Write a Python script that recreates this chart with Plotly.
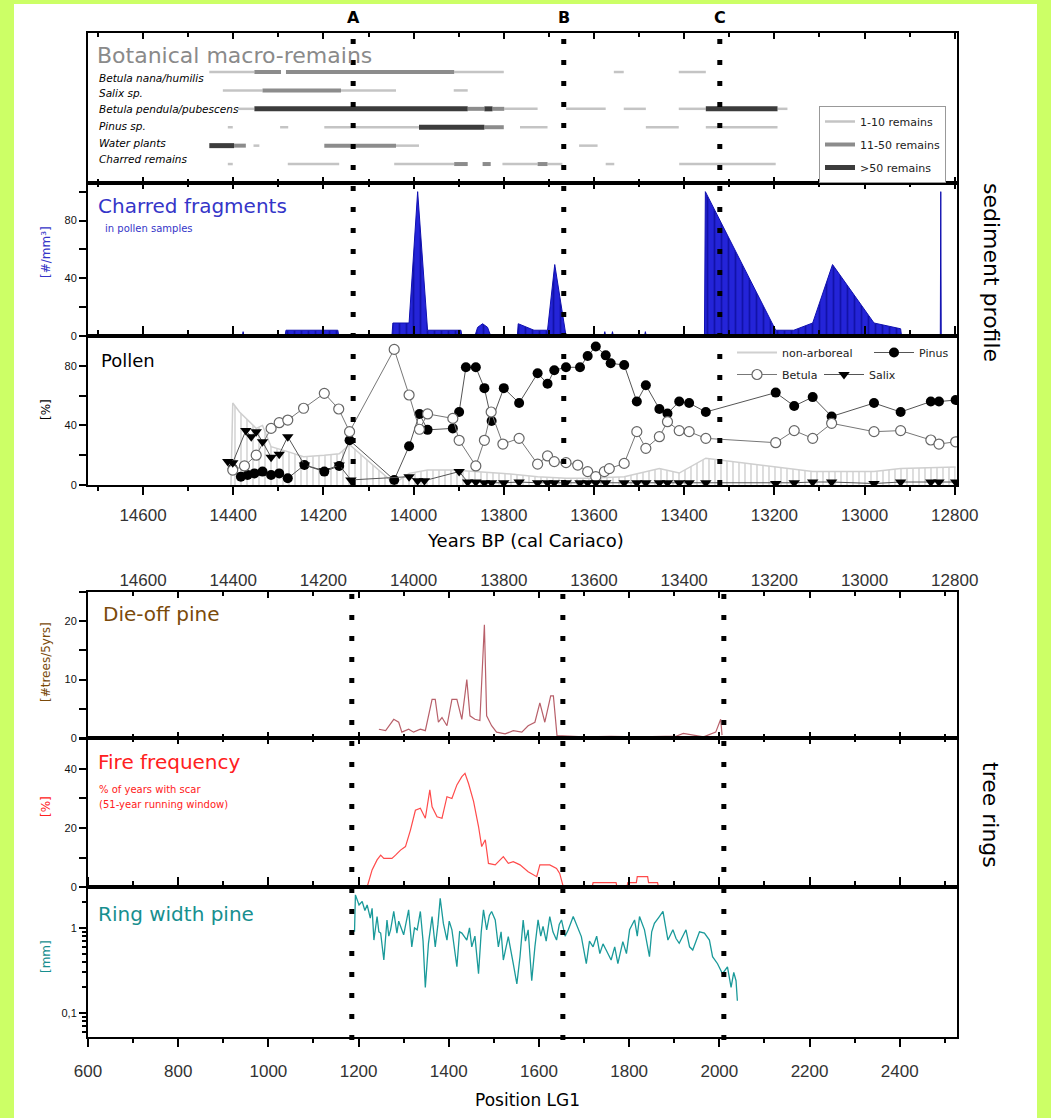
import plotly.graph_objects as go

W, H = 1051, 1118

# ---------------- data ----------------
year_ticks = [14600, 14400, 14200, 14000, 13800, 13600, 13400, 13200, 13000, 12800]
lg1_ticks = [600, 800, 1000, 1200, 1400, 1600, 1800, 2000, 2200, 2400]
event_names = ["A", "B", "C"]
event_years = [14134, 13667, 13321]
event_lg1 = [1185, 1653, 2010]

taxa = ["Betula nana/humilis", "Salix sp.", "Betula pendula/pubescens",
        "Pinus sp.", "Water plants", "Charred remains"]
levels = ["1-10 remains", "11-50 remains", ">50 remains"]
# (start year, end year, abundance level 1..3)
seg_betula_nana = [(14453, 14353, 1), (14353, 14294, 2), (14283, 13910, 2), (13910, 13800, 1),
                   (13556, 13534, 1), (13412, 13352, 1)]
seg_salix = [(14423, 14335, 1), (14335, 14161, 2), (14161, 14039, 1), (13911, 13880, 1)]
seg_betula_pend = [(14390, 14353, 1), (14353, 13880, 3), (13880, 13843, 2), (13843, 13825, 3),
                   (13825, 13799, 2), (13799, 13725, 1), (13662, 13574, 1), (13534, 13485, 1),
                   (13412, 13352, 1), (13352, 13193, 3), (13193, 13171, 1)]
seg_pinus = [(14412, 14401, 1), (14296, 14278, 1), (14198, 13988, 1), (13988, 13843, 3),
             (13843, 13800, 2), (13764, 13703, 1), (13485, 13412, 1), (13352, 13193, 1)]
seg_water = [(14453, 14398, 3), (14398, 14372, 2), (14355, 14342, 1), (14198, 14039, 2),
             (14039, 13988, 1), (13633, 13592, 1)]
seg_charred = [(14412, 14401, 1), (14279, 14165, 1), (14043, 13910, 1), (13910, 13880, 2),
               (13847, 13829, 2), (13803, 13725, 1), (13725, 13703, 2), (13703, 13670, 1),
               (13574, 13555, 1), (13411, 13197, 1)]
bot_segments = [seg_betula_nana, seg_salix, seg_betula_pend, seg_pinus, seg_water, seg_charred]

charred_year = [14380, 14378, 14376, 14285, 14283, 14168, 14166, 14048, 14046, 14010, 13991,
                13969, 13895, 13893, 13864, 13858, 13847, 13836, 13829, 13770, 13768, 13733,
                13703, 13687, 13662, 13578, 13576, 13574, 13561, 13559, 13557, 13488, 13486,
                13484, 13355, 13353, 13197, 13157, 13115, 13071, 12979, 12920, 12918, 12832,
                12831, 12830]
charred_val = [0, 3, 0, 0, 4, 4, 0, 0, 9, 9, 100,
               4, 4, 0, 0, 6, 8.5, 6, 0, 0, 8.5, 4,
               4, 49.5, 0, 0, 3, 0, 0, 3, 0, 0, 3,
               0, 0, 100, 4, 4, 9, 49.5, 9, 5, 0, 0,
               100, 0]

pinus_year = [14401, 14383, 14368, 14353, 14335, 14316, 14298, 14279, 14242, 14198, 14165,
              14142, 14043, 14010, 13987, 13969, 13913, 13899, 13884, 13862, 13843, 13827,
              13800, 13766, 13725, 13703, 13688, 13662, 13631, 13614, 13596, 13574, 13563,
              13533, 13505, 13485, 13455, 13437, 13411, 13389, 13352, 13197, 13156, 13115,
              13073, 12979, 12920, 12853, 12835, 12798]
pinus_val = [11, 5.6, 6.7, 7.8, 9, 6.7, 7.8, 4.5, 13.4, 9, 12.8,
             30, 3.4, 26, 47.7, 37, 38, 49, 79, 79, 65, 43,
             65, 55, 75, 68, 77, 79, 79, 86.6, 93, 87, 81.7,
             80.5, 56, 67, 51, 48, 56, 55, 49, 62, 53, 59,
             46, 55, 49, 56, 56, 57]

betula_year = [14401, 14375, 14349, 14316, 14298, 14279, 14244, 14198, 14166, 14142, 14043,
               14010, 13987, 13969, 13913, 13899, 13862, 13843, 13828, 13802, 13766, 13725,
               13703, 13688, 13662, 13636, 13614, 13596, 13577, 13566, 13533, 13505, 13485,
               13455, 13437, 13411, 13389, 13352, 13197, 13156, 13115, 13073, 12979, 12920,
               12853, 12835, 12798]
betula_val = [10, 12.8, 20, 38, 41.8, 43.6, 51.5, 61.5, 51, 35.8, 91,
              60.4, 37.4, 47.7, 44.7, 30, 12.8, 30, 49, 27.5, 31.3, 14,
              19.5, 15.7, 15, 13.4, 9, 5.6, 9, 11, 14.5, 35.8, 24.6,
              32.4, 42.5, 36.5, 35.8, 31.3, 28.4, 36.5, 31.3, 41.4, 35.8, 36.5,
              30.2, 27.5, 29]

salix_year = [14412, 14401, 14372, 14360, 14349, 14335, 14316, 14298, 14279, 14242, 14198,
              14165, 14139, 14010, 13991, 13976, 13899, 13880, 13862, 13843, 13827, 13800,
              13766, 13725, 13703, 13688, 13662, 13631, 13614, 13596, 13574, 13533, 13505,
              13485, 13455, 13437, 13411, 13389, 13352, 13197, 13156, 13115, 13073, 12979,
              12920, 12853, 12835, 12798]
salix_val = [15.7, 15, 36.5, 32.4, 35.8, 29, 18.6, 20.6, 32.4, 13.4, 9.6,
             13.4, 3.4, 5.6, 2.9, 2.9, 9, 2, 2, 1.5, 1.5, 1.5,
             2, 1.5, 1.5, 1.5, 1.5, 1.5, 1.5, 1.5, 1.5, 1.5, 1.5,
             1.5, 1.5, 1.5, 1.5, 1.5, 1.5, 1, 1.5, 2, 2, 1,
             2, 2, 2, 2]

nap_year = [14405, 14401, 14386, 14368, 14349, 14335, 14316, 14279, 14244, 14198, 14165,
            14142, 14043, 14010, 13969, 13913, 13862, 13800, 13725, 13662, 13614, 13533,
            13455, 13411, 13352, 13197, 13115, 12979, 12920, 12798]
nap_val = [0, 55, 49, 43.6, 38, 40, 25.7, 22.4, 19, 20, 21,
           27, 1, 7.8, 10, 10, 9, 7.8, 5.6, 4.5, 4.5, 5.6,
           11, 8, 18, 12, 9, 9, 11, 12]

dieoff_pos = [1245, 1260, 1278, 1289, 1296, 1311, 1322, 1337, 1348, 1363, 1370, 1377, 1385,
              1396, 1407, 1418, 1429, 1440, 1447, 1458, 1469, 1479, 1484, 1495, 1506, 1525,
              1543, 1562, 1576, 1591, 1602, 1613, 1626, 1632, 1640, 1700, 1760, 1820, 1880,
              1904, 1920, 1948, 1965, 1992, 2003, 2006]
dieoff_val = [1.5, 1.25, 3.2, 2.7, 1, 1.5, 1, 1.5, 1.25, 6.6, 6.6, 2.7, 3.5,
              2.1, 6.6, 6.6, 3.2, 10, 3.8, 3.2, 3, 19.4, 3.8, 2.1, 1, 0.7,
              1.25, 1, 2.1, 2.7, 6, 2.7, 7.2, 7.2, 0.4, 0.2, 0.3, 0.2, 0.3,
              0.3, 0.8, 0.5, 0.2, 1, 3.2, 0.5]

fire_pos = [1219, 1230, 1241, 1249, 1256, 1274, 1282, 1293, 1304, 1315, 1326, 1337, 1348,
            1358, 1363, 1374, 1385, 1396, 1407, 1418, 1429, 1436, 1444, 1455, 1466, 1473,
            1481, 1488, 1503, 1521, 1532, 1543, 1558, 1576, 1595, 1602, 1624, 1639, 1646,
            1654, 1718, 1720, 1771, 1773, 1795, 1797, 1816, 1818, 1841, 1843, 1863, 1865]
fire_val = [0, 5.8, 9.2, 10.8, 9.7, 9.7, 10.8, 12.5, 13.7, 19.3, 26, 26.7, 23.3,
            32.9, 27.2, 23.8, 23.3, 30.6, 30, 34.6, 37.4, 38.5, 35, 29, 20.5, 13.7,
            16, 8, 7.5, 10.3, 8, 8.6, 7.5, 5.2, 3.5, 7.5, 7.5, 6.3, 4.6,
            0, 0, 1.5, 1.5, 0, 0, 1.5, 1.5, 3.5, 3.5, 1.5, 1.5, 0]

ring_pos = [1191, 1193, 1201, 1208, 1214, 1219, 1226, 1230, 1234, 1241, 1245, 1249, 1256,
            1263, 1267, 1271, 1278, 1285, 1289, 1293, 1300, 1306, 1311, 1318, 1324, 1330,
            1337, 1343, 1348, 1355, 1363, 1370, 1376, 1381, 1388, 1396, 1401, 1407, 1413,
            1418, 1424, 1429, 1440, 1446, 1451, 1458, 1466, 1472, 1477, 1484, 1490, 1495,
            1503, 1510, 1516, 1521, 1532, 1538, 1543, 1551, 1558, 1565, 1570, 1576, 1584,
            1591, 1598, 1604, 1609, 1616, 1624, 1631, 1639, 1645, 1650, 1658, 1665, 1676,
            1683, 1694, 1705, 1712, 1720, 1728, 1735, 1742, 1749, 1760, 1768, 1775, 1786,
            1794, 1801, 1812, 1818, 1823, 1834, 1845, 1850, 1856, 1867, 1875, 1886, 1897,
            1904, 1911, 1926, 1934, 1941, 1956, 1967, 1978, 1985, 1996, 2007, 2018, 2026,
            2032, 2037, 2040]
ring_val = [0.9, 2.44, 1.86, 2.04, 1.6, 1.86, 1.3, 1.7, 0.72, 1.36, 0.9, 0.87, 0.42,
            1.24, 0.8, 0.95, 1.56, 0.87, 1.2, 1.04, 0.83, 1.2, 1.63, 0.6, 1.0, 0.95,
            1.56, 0.7, 0.2, 0.66, 1.36, 0.6, 1.1, 2.23, 1.13, 0.72, 1.2, 0.95, 0.5,
            0.35, 0.9, 0.87, 0.72, 1.0, 0.6, 0.8, 0.29, 0.9, 1.63, 0.95, 1.4, 1.56,
            1.24, 0.6, 0.9, 0.42, 0.79, 0.5, 0.38, 0.22, 0.46, 1.24, 0.7, 0.95, 0.24,
            0.6, 1.24, 0.8, 1.04, 0.7, 1.36, 0.9, 0.72, 1.1, 1.24, 0.8, 0.95, 1.36,
            1.1, 0.79, 0.38, 0.7, 0.6, 0.8, 0.5, 0.65, 0.55, 0.42, 0.6, 0.38, 0.69,
            0.5, 0.95, 1.24, 0.8, 1.36, 0.95, 0.46, 0.9, 1.13, 1.36, 1.56, 0.72, 0.95,
            0.75, 0.66, 0.95, 0.6, 0.55, 0.9, 0.87, 0.72, 0.46, 0.38, 0.29, 0.35, 0.2,
            0.3, 0.24, 0.14]

# ---------------- layout helpers ----------------
def px2x(p):
    return p / W


def py2y(p):
    return 1 - p / H


def dom(top, bot):
    return [1 - bot / H, 1 - top / H]


X_DOM = [px2x(88), px2x(957)]
YEAR_RANGE = [14722, 12795]
LG1_RANGE = [600, 2527]
year_minor = [t + 100 for t in year_ticks]
lg1_minor = [t + 100 for t in lg1_ticks]

TICKFONT = dict(family="Liberation Sans, Arial", size=17, color="#333333")
YTICKFONT = dict(family="Liberation Sans, Arial", size=11, color="#111111")
TITLEFAM = "DejaVu Sans, Verdana"
LEGFONT = dict(family="DejaVu Sans", size=11, color="#222")

level_style = {1: ("#c4c4c4", 2.5), 2: ("#8c8c8c", 4), 3: ("#3c3c3c", 5)}

fig = go.Figure()

# ---- botanical macro-remains ----
row_y = [6, 5, 4, 3, 2, 1]
for lev in (1, 2, 3):
    xs, ys = [], []
    for segs, ry in zip(bot_segments, row_y):
        for (a, b, l) in segs:
            if l == lev:
                xs += [a, b, None]
                ys += [ry, ry, None]
    col, w = level_style[lev]
    fig.add_trace(go.Scatter(x=xs, y=ys, mode="lines", line=dict(color=col, width=w),
                             name=levels[lev - 1], legend="legend", legendgroup=str(lev),
                             xaxis="x", yaxis="y", hoverinfo="skip"))

# ---- charred fragments ----
fig.add_trace(go.Scatter(x=charred_year, y=charred_val, mode="lines", fill="tozeroy",
                         line=dict(color="#1010b0", width=1),
                         fillcolor="#1818c8",
                         fillpattern=dict(shape="|", fgcolor="#00007a", bgcolor="#2424d8",
                                          size=7, solidity=0.25),
                         showlegend=False, xaxis="x2", yaxis="y2", hoverinfo="skip"))

# ---- pollen ----
fig.add_trace(go.Scatter(x=nap_year, y=nap_val, mode="lines", fill="tozeroy",
                         line=dict(color="#cfcfcf", width=1.5),
                         fillpattern=dict(shape="|", fgcolor="#b0b0b0", bgcolor="white",
                                          size=6, solidity=0.28),
                         showlegend=False, xaxis="x3", yaxis="y3", hoverinfo="skip"))
fig.add_trace(go.Scatter(x=[None], y=[None], mode="lines", name="non-arboreal",
                         line=dict(color="#d0d0d0", width=2), legend="legend2",
                         xaxis="x3", yaxis="y3"))
fig.add_trace(go.Scatter(x=pinus_year, y=pinus_val, mode="lines+markers", name="Pinus",
                         line=dict(color="#555555", width=1),
                         marker=dict(symbol="circle", size=10, color="black"),
                         legend="legend4", xaxis="x3", yaxis="y3", hoverinfo="skip"))
fig.add_trace(go.Scatter(x=betula_year, y=betula_val, mode="lines+markers", name="Betula",
                         line=dict(color="#777777", width=1),
                         marker=dict(symbol="circle", size=10, color="white",
                                     line=dict(color="#666666", width=1.2)),
                         legend="legend3", xaxis="x3", yaxis="y3", hoverinfo="skip"))
fig.add_trace(go.Scatter(x=salix_year, y=salix_val, mode="lines+markers", name="Salix",
                         line=dict(color="#555555", width=1),
                         marker=dict(symbol="triangle-down", size=10, color="black"),
                         legend="legend5", xaxis="x3", yaxis="y3", hoverinfo="skip"))

# ---- die-off pine ----
fig.add_trace(go.Scatter(x=dieoff_pos, y=dieoff_val, mode="lines",
                         line=dict(color="#b8606a", width=1.2),
                         showlegend=False, xaxis="x4", yaxis="y4", hoverinfo="skip"))
# invisible carrier for the top years axis of the tree-ring block
fig.add_trace(go.Scatter(x=[year_ticks[0], year_ticks[-1]], y=[None, None], mode="markers",
                         showlegend=False, xaxis="x7", yaxis="y4", hoverinfo="skip"))
# ---- fire frequency ----
fig.add_trace(go.Scatter(x=fire_pos, y=fire_val, mode="lines",
                         line=dict(color="#ff4a4a", width=1.2),
                         showlegend=False, xaxis="x5", yaxis="y5", hoverinfo="skip"))
# ---- ring width ----
fig.add_trace(go.Scatter(x=ring_pos, y=ring_val, mode="lines",
                         line=dict(color="#1a9a9a", width=1.3),
                         showlegend=False, xaxis="x6", yaxis="y6", hoverinfo="skip"))

# ---------------- axes ----------------
def xyear(labels=False, ticks="inside", ticklen=6):
    d = dict(range=YEAR_RANGE, domain=X_DOM, showline=True, linewidth=2, linecolor="black",
             mirror="ticks", ticks=ticks, ticklen=ticklen, tickwidth=1.5, tickcolor="black",
             tickvals=year_ticks, tickformat="d", automargin=False,
             minor=dict(tickvals=year_minor, ticks=ticks, ticklen=4, tickcolor="black"),
             showgrid=False, zeroline=False, showticklabels=labels, tickfont=TICKFONT)
    return d


def xlg1(labels=False, ticks="inside", ticklen=6):
    return dict(range=LG1_RANGE, domain=X_DOM, showline=True, linewidth=2, linecolor="black",
                mirror="ticks", ticks=ticks, ticklen=ticklen, tickwidth=1.5, tickcolor="black",
                tickvals=lg1_ticks, tickformat="d", automargin=False,
                minor=dict(tickvals=lg1_minor, ticks=ticks, ticklen=4, tickcolor="black"),
                showgrid=False, zeroline=False, showticklabels=labels, tickfont=TICKFONT)


def ylin(top, bot, rng, tv, tt):
    return dict(domain=dom(top, bot), range=rng, showline=True, linewidth=2, linecolor="black",
                mirror=True, ticks="outside", ticklen=7, tickwidth=1.5, tickcolor="black",
                tickvals=tv, ticktext=tt, tickfont=YTICKFONT, showgrid=False, zeroline=False,
                automargin=False)


def single_legend(xp, yp):
    return dict(x=px2x(xp), y=py2y(yp), xanchor="left", yanchor="top", orientation="h",
                bgcolor="rgba(0,0,0,0)", font=LEGFONT, itemwidth=40)


layout = dict(
    width=W, height=H, autosize=False,
    margin=dict(l=0, r=0, t=0, b=0, pad=0, autoexpand=False),
    paper_bgcolor="#ccff66", plot_bgcolor="white",
    font=dict(family="Liberation Sans, Arial", color="black"),
    xaxis=dict(xyear(), anchor="y"),
    xaxis2=dict(xyear(), anchor="y2"),
    xaxis3=dict(xyear(labels=True, ticks="outside", ticklen=8), anchor="y3",
                ticklabelstandoff=6),
    xaxis4=dict(xlg1(), anchor="y4"),
    xaxis5=dict(xlg1(), anchor="y5"),
    xaxis6=dict(xlg1(labels=True, ticks="outside", ticklen=8), anchor="y6",
                ticklabelstandoff=10),
    xaxis7=dict(range=YEAR_RANGE, domain=X_DOM, overlaying="x4", anchor="y4", side="top",
                tickvals=year_ticks, tickformat="d", ticks="", showline=False, showgrid=False,
                zeroline=False, tickfont=TICKFONT, ticklabelstandoff=2, automargin=False),
    yaxis=dict(domain=dom(33, 183), range=[-0.03, 8.12], showline=True, linewidth=2,
               linecolor="black", mirror=True, showticklabels=False, ticks="",
               showgrid=False, zeroline=False, automargin=False),
    yaxis2=ylin(183, 336, [0, 106], [0, 20, 40, 60, 80, 100], ["0", "", "40", "", "80", ""]),
    yaxis3=ylin(336, 485, [0, 100], [0, 20, 40, 60, 80, 100], ["0", "", "40", "", "80", ""]),
    yaxis4=ylin(592, 738, [0, 25], [0, 5, 10, 15, 20, 25], ["0", "", "10", "", "20", ""]),
    yaxis5=ylin(738, 887, [0, 50.5], [0, 10, 20, 30, 40, 50], ["0", "", "20", "", "40", ""]),
    yaxis6=dict(domain=dom(887, 1037), type="log", range=[-1.28, 0.48], showline=True,
                linewidth=2, linecolor="black", mirror=True, ticks="outside", ticklen=7,
                tickwidth=1.5, tickcolor="black", tickvals=[0.1, 1], ticktext=["0,1", "1"],
                tickfont=YTICKFONT, showgrid=False, zeroline=False, automargin=False,
                minor=dict(tickvals=[0.06, 0.07, 0.08, 0.09, 0.2, 0.3, 0.4, 0.5, 0.6, 0.7,
                                     0.8, 0.9, 2, 3], ticks="outside", ticklen=4,
                           tickcolor="black")),
    legend=dict(x=px2x(819), y=py2y(106), xanchor="left", yanchor="top",
                bordercolor="#999999", borderwidth=1, bgcolor="white",
                font=LEGFONT, tracegroupgap=4, itemwidth=30),
    legend2=single_legend(732, 338),
    legend4=single_legend(869, 338),
    legend3=single_legend(732, 360),
    legend5=single_legend(819, 360),
)

shapes = [dict(type="rect", xref="paper", yref="paper", x0=px2x(14), x1=px2x(1037),
               y0=0, y1=py2y(4), fillcolor="white", line=dict(width=0), layer="below")]
for yr in event_years:
    shapes.append(dict(type="line", xref="x", yref="paper", x0=yr, x1=yr,
                       y0=py2y(485), y1=py2y(31),
                       line=dict(color="black", width=5, dash="5px,16px")))
for p in event_lg1:
    shapes.append(dict(type="line", xref="x4", yref="paper", x0=p, x1=p,
                       y0=py2y(1040), y1=py2y(590),
                       line=dict(color="black", width=5, dash="5px,16px")))
layout["shapes"] = shapes

ann = []


def txt(text, xp, yp, size, color, family=TITLEFAM, anchor="left", angle=0, **kw):
    ann.append(dict(text=text, x=px2x(xp), y=py2y(yp), xref="paper", yref="paper",
                    xanchor=anchor, yanchor="middle", showarrow=False, textangle=angle,
                    font=dict(family=family, size=size, color=color), **kw))


for name, yr in zip(event_names, event_years):
    ann.append(dict(text="<b>%s</b>" % name, x=yr, xref="x", y=py2y(18), yref="paper",
                    showarrow=False, font=dict(family=TITLEFAM, size=16, color="black"),
                    yanchor="middle"))

txt("Botanical macro-remains", 95, 55, 22, "#8a8a8a")
taxa_py = [78, 93, 109, 126, 143, 159]
for t, yy in zip(taxa, taxa_py):
    txt("<i>%s</i>" % t, 97, yy, 10.5, "black")
txt("Charred fragments", 96, 206, 20, "#3535c8")
txt("in pollen samples", 103, 229, 10, "#3535c8")
txt("Pollen", 99, 360, 18, "black")
txt("Die-off pine", 101, 614, 20, "#7a4a0a")
txt("Fire frequency", 96, 762, 20, "#ff2020")
txt("% of years with scar", 97, 789, 10, "#ff2020")
txt("(51-year running window)", 97, 804, 10, "#ff2020")
txt("Ring width pine", 96, 914, 20, "#178f8f")

txt("[#/mm³]", 46, 252, 12, "#3535c8", anchor="center", angle=-90)
txt("[%]", 46, 410, 12, "black", anchor="center", angle=-90)
txt("[#trees/5yrs]", 46, 662, 12, "#7a4a0a", anchor="center", angle=-90)
txt("[%]", 46, 807, 12, "#ff2020", anchor="center", angle=-90)
txt("[mm]", 46, 957, 12, "#178f8f", anchor="center", angle=-90)

txt("Years BP (cal Cariaco)", 525, 540, 18, "black", anchor="center")
txt("Position LG1", 527, 1100, 17, "black", anchor="center")
txt("sediment profile", 992, 272, 22, "black", anchor="center", angle=90)
txt("tree rings", 990, 815, 22, "black", anchor="center", angle=90)
layout["annotations"] = ann

fig.update_layout(**layout)
fig.write_html("out.html", config={"displayModeBar": False},
               post_script="document.body.style.margin='0';document.body.style.overflow='hidden';")
